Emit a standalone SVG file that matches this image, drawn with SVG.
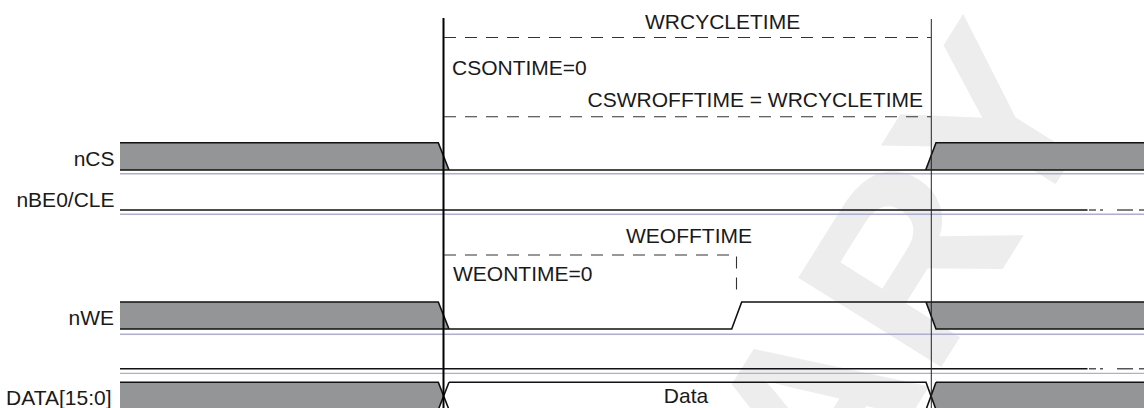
<svg xmlns="http://www.w3.org/2000/svg" width="1144" height="408" viewBox="0 0 1144 408">
<style>
.lbl{font-family:"Liberation Sans",Arial,sans-serif;font-size:21px;fill:#1a1a1a}
.wf{fill:none;stroke:#111;stroke-width:1.6}
.gray{fill:#949597;stroke:none}
.sep{stroke:#aeaed4;stroke-width:1.4}
.dash{fill:none;stroke:#333;stroke-width:1.1;stroke-dasharray:12 9}
.tail{fill:none;stroke:#555;stroke-width:1.4}
.wm{font-family:"Liberation Sans",Arial,sans-serif;font-weight:bold;font-size:245px;fill:#ededed}
</style>
<rect width="1144" height="408" fill="#fff"/>
<g id="watermark">
<text class="wm" transform="translate(1108,100) rotate(-58)" text-anchor="end">PRELIMINARY</text>
</g>
<g id="separators">
<line class="sep" x1="120" y1="173.8" x2="1144" y2="173.8"/>
<line class="sep" x1="120" y1="214.2" x2="1144" y2="214.2"/>
<line class="sep" x1="120" y1="334.3" x2="1144" y2="334.3"/>
<line class="sep" x1="120" y1="373.4" x2="1144" y2="373.4"/>
</g>
<g id="nCS">
<text class="lbl" x="114.5" y="166" text-anchor="end">nCS</text>
<polygon class="gray" points="120,142.7 438.3,142.7 449,170 120,170"/>
<polygon class="gray" points="936,142.7 1144,142.7 1144,170 925.7,170"/>
<path class="wf" d="M120,142.7 H438.3 L449,170 M925.7,170 L936,142.7 H1144 M120,170 H1144"/>
</g>
<g id="nBE0_CLE">
<text class="lbl" x="114.5" y="206.5" text-anchor="end">nBE0/CLE</text>
<path class="wf" d="M120,210 H1087.5"/>
<path class="tail" d="M1089,210 H1096 M1100,210 H1103 M1117,210 H1133 M1139,210 H1144"/>
</g>
<g id="nWE">
<text class="lbl" x="114" y="325" text-anchor="end">nWE</text>
<polygon class="gray" points="120,302 438.3,302 449,329 120,329"/>
<polygon class="gray" points="926,302 1144,302 1144,329 936,329"/>
<path class="wf" d="M120,302 H438.3 L449,329 H731.7 L741.7,302 H926 L936,329 H1144 M120,329 H449 M926,302 H1144"/>
</g>
<g id="blank_row">
<path class="wf" d="M120,368.7 H1087.5"/>
<path class="tail" d="M1089,368.7 H1096 M1100,368.7 H1103 M1117,368.7 H1133 M1139,368.7 H1144"/>
</g>
<g id="DATA">
<text class="lbl" x="111.5" y="405" text-anchor="end">DATA[15:0]</text>
<polygon class="gray" points="120,382.3 438.3,382.3 443.6,396 438.3,409.7 120,409.7"/>
<polygon class="gray" points="936,382.3 1144,382.3 1144,410 936,410 931,396"/>
<path class="wf" d="M120,382.3 H438.3 L449,409.7 M449,382.3 L438.3,409.7 M449,382.3 H926 L936,409.7 M936,382.3 L926,409.7 M936,382.3 H1144"/>
<text class="lbl" x="686" y="402.5" text-anchor="middle">Data</text>
</g>
<g id="connectors">
<line x1="443.5" y1="18" x2="443.5" y2="408" stroke="#000" stroke-width="2"/>
<line x1="931.3" y1="19" x2="931.3" y2="408" stroke="#222" stroke-width="1"/>
<path class="dash" d="M444,37.5 H931"/>
<path class="dash" d="M444,116.7 H931"/>
<path class="dash" d="M444,255 H736.5 V298"/>
</g>
<g id="annotations">
<text class="lbl" x="645" y="29.3">WRCYCLETIME</text>
<text class="lbl" x="452" y="75">CSONTIME=0</text>
<text class="lbl" x="923" y="107.3" text-anchor="end">CSWROFFTIME = WRCYCLETIME</text>
<text class="lbl" x="626" y="242.7">WEOFFTIME</text>
<text class="lbl" x="453" y="280.7">WEONTIME=0</text>
</g>
</svg>
